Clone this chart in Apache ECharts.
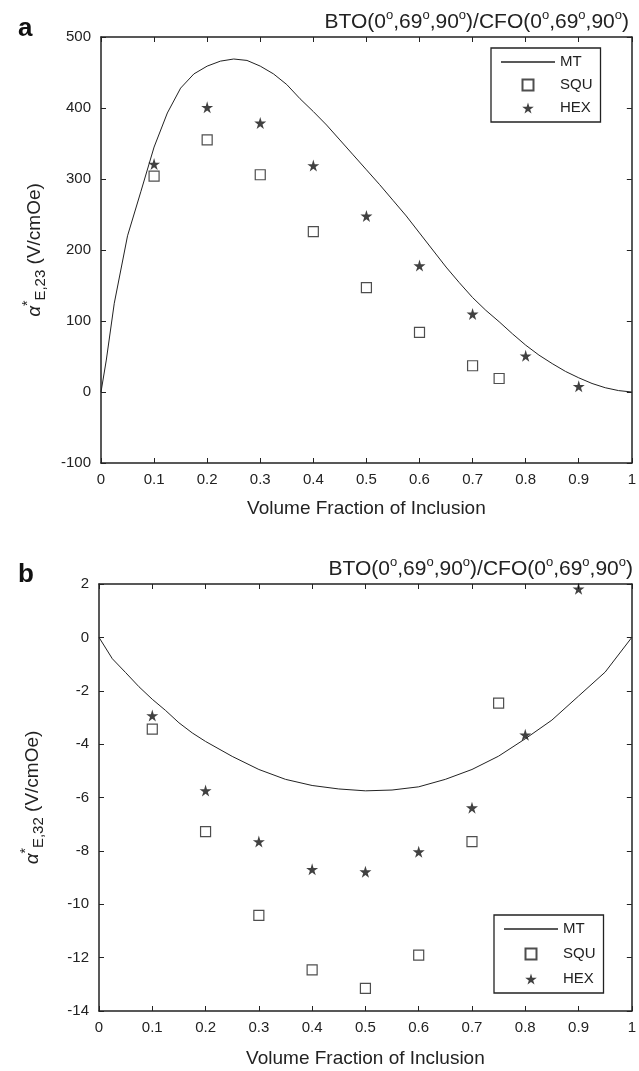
<!DOCTYPE html>
<html>
<head>
<meta charset="utf-8">
<script src="https://cdn.jsdelivr.net/npm/echarts@6/dist/echarts.min.js"></script>
<style>
  html, body { margin: 0; padding: 0; background: #fff; }
  #chart { width: 639px; height: 1071px; }
</style>
</head>
<body>
<div id="chart"></div>
<script>
// panel a: alpha*_E,23
const topMtX = [0, 0.01, 0.025, 0.05, 0.075, 0.1, 0.125, 0.15, 0.175, 0.2, 0.225, 0.25, 0.275, 0.3, 0.325, 0.35, 0.375, 0.4, 0.425, 0.45, 0.475, 0.5, 0.525, 0.55, 0.575, 0.6, 0.625, 0.65, 0.675, 0.7, 0.725, 0.75, 0.775, 0.8, 0.825, 0.85, 0.875, 0.9, 0.925, 0.95, 0.975, 1];
const topMtY = [0, 45, 125, 220, 282, 345, 393, 428, 448, 459, 466, 469, 467, 459, 448, 433, 413, 395, 376, 355, 334, 313, 292, 270, 248, 224, 200, 176, 154, 133, 115, 99, 82, 66, 52, 40, 29, 20, 12, 6, 2, 0];
const topSquX = [0.1, 0.2, 0.3, 0.4, 0.5, 0.6, 0.7, 0.75];
const topSquY = [304, 355, 306, 226, 147, 84, 37, 19];
const topHexX = [0.1, 0.2, 0.3, 0.4, 0.5, 0.6, 0.7, 0.8, 0.9];
const topHexY = [321, 401, 379, 319, 248, 178, 110, 51, 8];

// panel b: alpha*_E,32
const botMtX = [0, 0.025, 0.05, 0.075, 0.1, 0.125, 0.15, 0.175, 0.2, 0.25, 0.3, 0.35, 0.4, 0.45, 0.5, 0.55, 0.6, 0.65, 0.7, 0.75, 0.8, 0.85, 0.9, 0.95, 1];
const botMtY = [0, -0.8, -1.32, -1.85, -2.32, -2.74, -3.2, -3.58, -3.9, -4.46, -4.95, -5.32, -5.55, -5.68, -5.75, -5.72, -5.6, -5.32, -4.95, -4.45, -3.8, -3.1, -2.2, -1.3, 0];
const botSquX = [0.1, 0.2, 0.3, 0.4, 0.5, 0.6, 0.7, 0.75];
const botSquY = [-3.44, -7.28, -10.42, -12.46, -13.15, -11.91, -7.65, -2.46];
const botHexX = [0.1, 0.2, 0.3, 0.4, 0.5, 0.6, 0.7, 0.8, 0.9];
const botHexY = [-2.93, -5.74, -7.65, -8.69, -8.78, -8.03, -6.38, -3.65, 1.82];

const xLabel = 'Volume Fraction of Inclusion';

const ink = '#222';
const font = '"Liberation Sans", Arial, sans-serif';
const star = 'path://M50,0 L61,35 L98,35 L68,57 L79,91 L50,70 L21,91 L32,57 L2,35 L39,35 Z';
const lineIcon = 'path://M0,0 L54,0 L54,1.4 L0,1.4 Z';
const boxIcon = 'path://M0,0 L10,0 L10,10 L0,10 Z';

const pairs = (xs, ys) => xs.map((x, i) => [x, ys[i]]);

const titleText = '{t|BTO(0}{s|o}{t|,69}{s|o}{t|,90}{s|o}{t|)/CFO(0}{s|o}{t|,69}{s|o}{t|,90}{s|o}{t|)}';
const titleRich = {
  t: { fontSize: 21, color: ink, fontFamily: font, fontWeight: 'normal' },
  s: { fontSize: 13, color: ink, fontFamily: font, fontWeight: 'normal', padding: [0, 0, 13, 0] }
};

const nameRich = {
  a: { fontSize: 19, color: ink, fontFamily: font, fontStyle: 'italic' },
  sup: { fontSize: 14, color: ink, fontFamily: font, padding: [0, 0, 14, 0] },
  sub: { fontSize: 15, color: ink, fontFamily: font, padding: [12, 0, 0, 0] },
  n: { fontSize: 19, color: ink, fontFamily: font }
};

const frameLine = { show: true, onZero: false, lineStyle: { color: ink, width: 1.5 } };
const tick = { show: true, inside: true, length: 5, lineStyle: { color: ink, width: 1 } };
const label = { color: ink, fontSize: 15, fontFamily: font };

function xAxes(grid, gap) {
  return [
    {
      gridIndex: grid, type: 'value', min: 0, max: 1, interval: 0.1, position: 'bottom',
      axisLine: frameLine, axisTick: tick, splitLine: { show: false },
      axisLabel: Object.assign({ margin: 9 }, label),
      name: xLabel, nameLocation: 'middle', nameGap: gap,
      nameTextStyle: { fontSize: 19, color: ink, fontFamily: font }
    },
    {
      gridIndex: grid, type: 'value', min: 0, max: 1, interval: 0.1, position: 'top',
      axisLine: frameLine, axisTick: tick, splitLine: { show: false }, axisLabel: { show: false }
    }
  ];
}

function yAxes(grid, min, max, step, name) {
  return [
    {
      gridIndex: grid, type: 'value', min: min, max: max, interval: step, position: 'left',
      axisLine: frameLine, axisTick: tick, splitLine: { show: false },
      axisLabel: Object.assign({ margin: 10 }, label),
      name: name, nameLocation: 'middle', nameRotate: 90, nameGap: 52,
      nameTextStyle: { rich: nameRich }
    },
    {
      gridIndex: grid, type: 'value', min: min, max: max, interval: step, position: 'right',
      axisLine: frameLine, axisTick: tick, splitLine: { show: false }, axisLabel: { show: false }
    }
  ];
}

function panelSeries(xi, yi, mtX, mtY, sqX, sqY, hxX, hxY) {
  return [
    {
      name: 'MT', type: 'line', xAxisIndex: xi, yAxisIndex: yi,
      data: pairs(mtX, mtY), symbol: 'none', smooth: false,
      lineStyle: { color: ink, width: 1 }, itemStyle: { color: ink }
    },
    {
      name: 'SQU', type: 'scatter', xAxisIndex: xi, yAxisIndex: yi,
      data: pairs(sqX, sqY), symbol: 'rect', symbolSize: 10,
      itemStyle: { color: '#fff', borderColor: ink, borderWidth: 1.2 }
    },
    {
      name: 'HEX', type: 'scatter', xAxisIndex: xi, yAxisIndex: yi,
      data: pairs(hxX, hxY), symbol: star, symbolSize: 12,
      itemStyle: { color: '#111' }
    }
  ];
}

function legendBox(left, top, gap) {
  return {
    data: [
      { name: 'MT', icon: lineIcon },
      { name: 'SQU', icon: boxIcon },
      { name: 'HEX' }
    ],
    orient: 'vertical', left: left, top: top,
    padding: [6, 8, 6, 10], itemWidth: 54, itemHeight: 11, itemGap: gap,
    backgroundColor: '#fff', borderColor: ink, borderWidth: 1.3, borderRadius: 0,
    textStyle: { color: ink, fontSize: 15, fontFamily: font, lineHeight: 16 },
    selectedMode: false
  };
}

const chart = echarts.init(document.getElementById('chart'), null, { renderer: 'canvas' });
chart.setOption({
  backgroundColor: '#fff',
  animation: false,
  title: [
    { text: titleText, right: 5, top: 4, textStyle: { rich: titleRich } },
    { text: titleText, right: 1, top: 551, textStyle: { rich: titleRich } }
  ],
  legend: [legendBox(491, 48, 7), legendBox(494, 915, 9)],
  grid: [
    { left: 101, top: 37, width: 532, height: 426 },
    { left: 99, top: 584, width: 539, height: 427 }
  ],
  xAxis: xAxes(0, 36).concat(xAxes(1, 38)),
  yAxis: yAxes(0, -100, 500, 100, '{a|α}{sup|*}{sub|E,23}{n| (V/cmOe)}')
    .concat(yAxes(1, -14, 2, 2, '{a|α}{sup|*}{sub|E,32}{n| (V/cmOe)}')),
  series: panelSeries(0, 0, topMtX, topMtY, topSquX, topSquY, topHexX, topHexY)
    .concat(panelSeries(2, 2, botMtX, botMtY, botSquX, botSquY, botHexX, botHexY)),
  graphic: [
    { type: 'text', left: 18, top: 16, style: { text: 'a', fontSize: 26, fontWeight: 'bold', fill: '#111', fontFamily: font } },
    { type: 'text', left: 18, top: 562, style: { text: 'b', fontSize: 26, fontWeight: 'bold', fill: '#111', fontFamily: font } }
  ]
});
</script>
</body>
</html>
